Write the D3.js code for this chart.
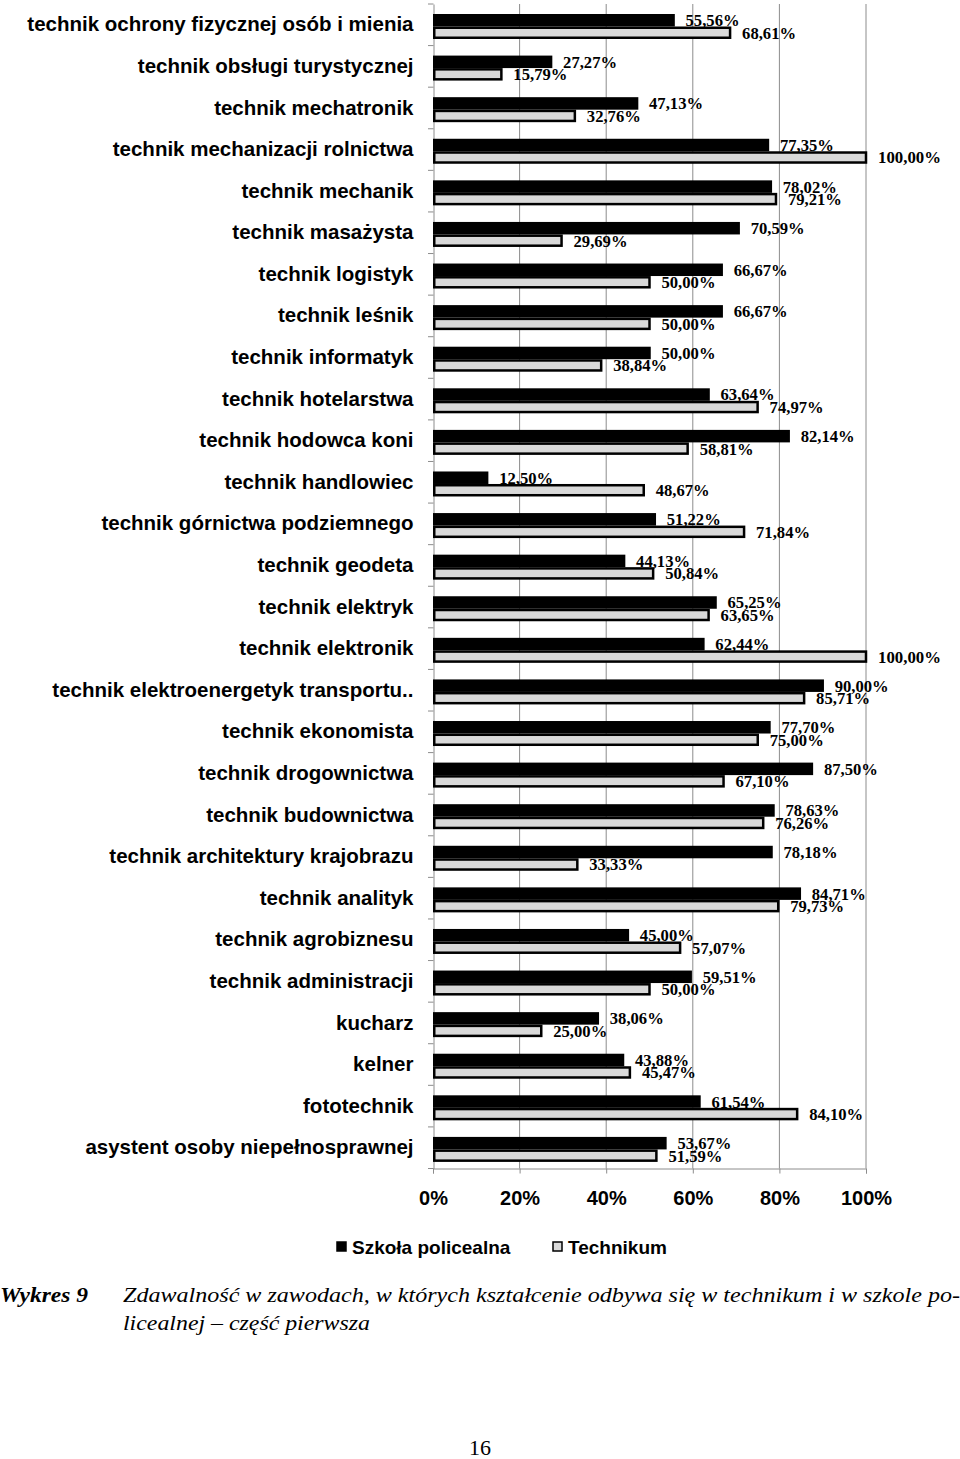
<!DOCTYPE html>
<html><head><meta charset="utf-8">
<script src="https://cdn.jsdelivr.net/npm/d3@7"></script>
<style>body{margin:0;background:#fff}svg{display:block}</style>
</head><body>
<script>
const categories = [
 "technik ochrony fizycznej osób i mienia","technik obsługi turystycznej","technik mechatronik",
 "technik mechanizacji rolnictwa","technik mechanik","technik masażysta","technik logistyk",
 "technik leśnik","technik informatyk","technik hotelarstwa","technik hodowca koni",
 "technik handlowiec","technik górnictwa podziemnego","technik geodeta","technik elektryk",
 "technik elektronik","technik elektroenergetyk transportu..","technik ekonomista",
 "technik drogownictwa","technik budownictwa","technik architektury krajobrazu",
 "technik analityk","technik agrobiznesu","technik administracji","kucharz","kelner",
 "fototechnik","asystent osoby niepełnosprawnej"];
const policealna = [55.56,27.27,47.13,77.35,78.02,70.59,66.67,66.67,50.00,63.64,82.14,12.50,51.22,44.13,65.25,62.44,90.00,77.70,87.50,78.63,78.18,84.71,45.00,59.51,38.06,43.88,61.54,53.67];
const technikum = [68.61,15.79,32.76,100.00,79.21,29.69,50.00,50.00,38.84,74.97,58.81,48.67,71.84,50.84,63.65,100.00,85.71,75.00,67.10,76.26,33.33,79.73,57.07,50.00,25.00,45.47,84.10,51.59];
const seriesNames = ["Szkoła policealna","Technikum"];
const xTicks = [0,20,40,60,80,100];
const captionLabel = "Wykres 9";
const captionLines = ["Zdawalność w zawodach, w których kształcenie odbywa się w technikum i w szkole po-","licealnej – część pierwsza"];
const pageNumber = "16";

const W = 960, H = 1459;
const svg = d3.select("body").append("svg").attr("width", W).attr("height", H);
const x = d3.scaleLinear().domain([0,100]).range([433,866]);
const y = d3.scaleBand().domain(categories).range([4,1168.5]);
const sub = d3.scaleBand().domain(seriesNames).range([10,35]);
const fills = {"Szkoła policealna":"#000","Technikum":"#d9d9d9"};
const gridColor = "#8c8c8c";
const fmt = v => v.toFixed(2).replace(".", ",") + "%";

// gridlines
svg.append("g").selectAll("line").data(xTicks.slice(1)).join("line")
  .attr("x1", d=>x(d)).attr("x2", d=>x(d)).attr("y1", 4).attr("y2", 1168.5)
  .attr("stroke", gridColor).attr("stroke-width", 1);

// x axis
const xAxis = svg.append("g").attr("transform","translate(0,1168.5)")
  .call(d3.axisBottom(x).tickValues(xTicks).tickFormat(d=>d+"%").tickSize(5).tickPadding(17));
xAxis.select(".domain").attr("stroke", gridColor);
xAxis.selectAll(".tick line").attr("stroke", gridColor);
xAxis.selectAll("text").attr("font-family","Liberation Sans, Arial, sans-serif").attr("font-weight","bold")
  .attr("font-size","20px").attr("fill","#000");

// y axis
const yAxis = svg.append("g").attr("transform","translate(433.5,0)")
  .call(d3.axisLeft(y).tickSize(0).tickPadding(20));
yAxis.select(".domain").attr("stroke", gridColor);
yAxis.selectAll("text").attr("font-family","Liberation Sans, Arial, sans-serif").attr("font-weight","bold")
  .attr("font-size","20.5px").attr("fill","#000");
// boundary ticks
const bounds = categories.map(c=>y(c)).concat([y(categories[categories.length-1])+y.bandwidth()]);
svg.append("g").selectAll("line").data(bounds).join("line")
  .attr("x1",428).attr("x2",433.5).attr("y1",d=>d).attr("y2",d=>d)
  .attr("stroke", gridColor);

// data rows
const rows = categories.map((c,i)=>({c, vals:[{s:seriesNames[0],v:policealna[i]},{s:seriesNames[1],v:technikum[i]}]}));
const g = svg.append("g").selectAll("g").data(rows).join("g")
  .attr("transform", d=>`translate(0,${y(d.c)})`);
g.selectAll("rect").data(d=>d.vals).join("rect")
  .attr("x", x(0)+1.25).attr("y", d=>sub(d.s)+1.25)
  .attr("width", d=>x(d.v)-x(0)-1.25).attr("height", sub.bandwidth()-2.5)
  .attr("fill", d=>fills[d.s]).attr("stroke","#000").attr("stroke-width",2.5);
g.selectAll("text").data(d=>d.vals).join("text")
  .attr("x", d=>x(d.v)+12).attr("y", d=>sub(d.s)+sub.bandwidth()/2)
  .attr("dy","0.35em").text(d=>fmt(d.v))
  .attr("font-family","Liberation Serif, Times New Roman, serif").attr("font-weight","bold")
  .attr("font-size","17px").attr("fill","#000")
  .attr("textLength",d=>fmt(d.v).length*9).attr("lengthAdjust","spacingAndGlyphs");

// legend
const leg = svg.append("g").attr("transform","translate(337,1247)");
const legX = [0, 216];
seriesNames.forEach((s,i)=>{
  leg.append("rect").attr("x",legX[i]).attr("y",-5).attr("width",9).attr("height",9)
    .attr("fill",fills[s]).attr("stroke","#000").attr("stroke-width",1.5);
  leg.append("text").attr("x",legX[i]+15).attr("y",0).attr("dy","0.35em").text(s)
    .attr("font-family","Liberation Sans, Arial, sans-serif").attr("font-weight","bold")
    .attr("font-size","19px").attr("fill","#000");
});

// caption
const cap = svg.append("g").attr("font-family","Liberation Serif, Times New Roman, serif").attr("font-size","22px").attr("fill","#000");
cap.append("text").attr("x",0).attr("y",1302).attr("font-weight","bold").attr("font-style","italic")
  .attr("textLength",88).attr("lengthAdjust","spacingAndGlyphs").text(captionLabel);
cap.append("text").attr("x",123).attr("y",1302).attr("font-style","italic")
  .attr("textLength",837).attr("lengthAdjust","spacingAndGlyphs").text(captionLines[0]);
cap.append("text").attr("x",123).attr("y",1330).attr("font-style","italic")
  .attr("textLength",247).attr("lengthAdjust","spacingAndGlyphs").text(captionLines[1]);
svg.append("text").attr("x",480).attr("y",1455).attr("text-anchor","middle")
  .attr("font-family","Liberation Serif, Times New Roman, serif").attr("font-size","22px").text(pageNumber);
</script>
</body></html>
